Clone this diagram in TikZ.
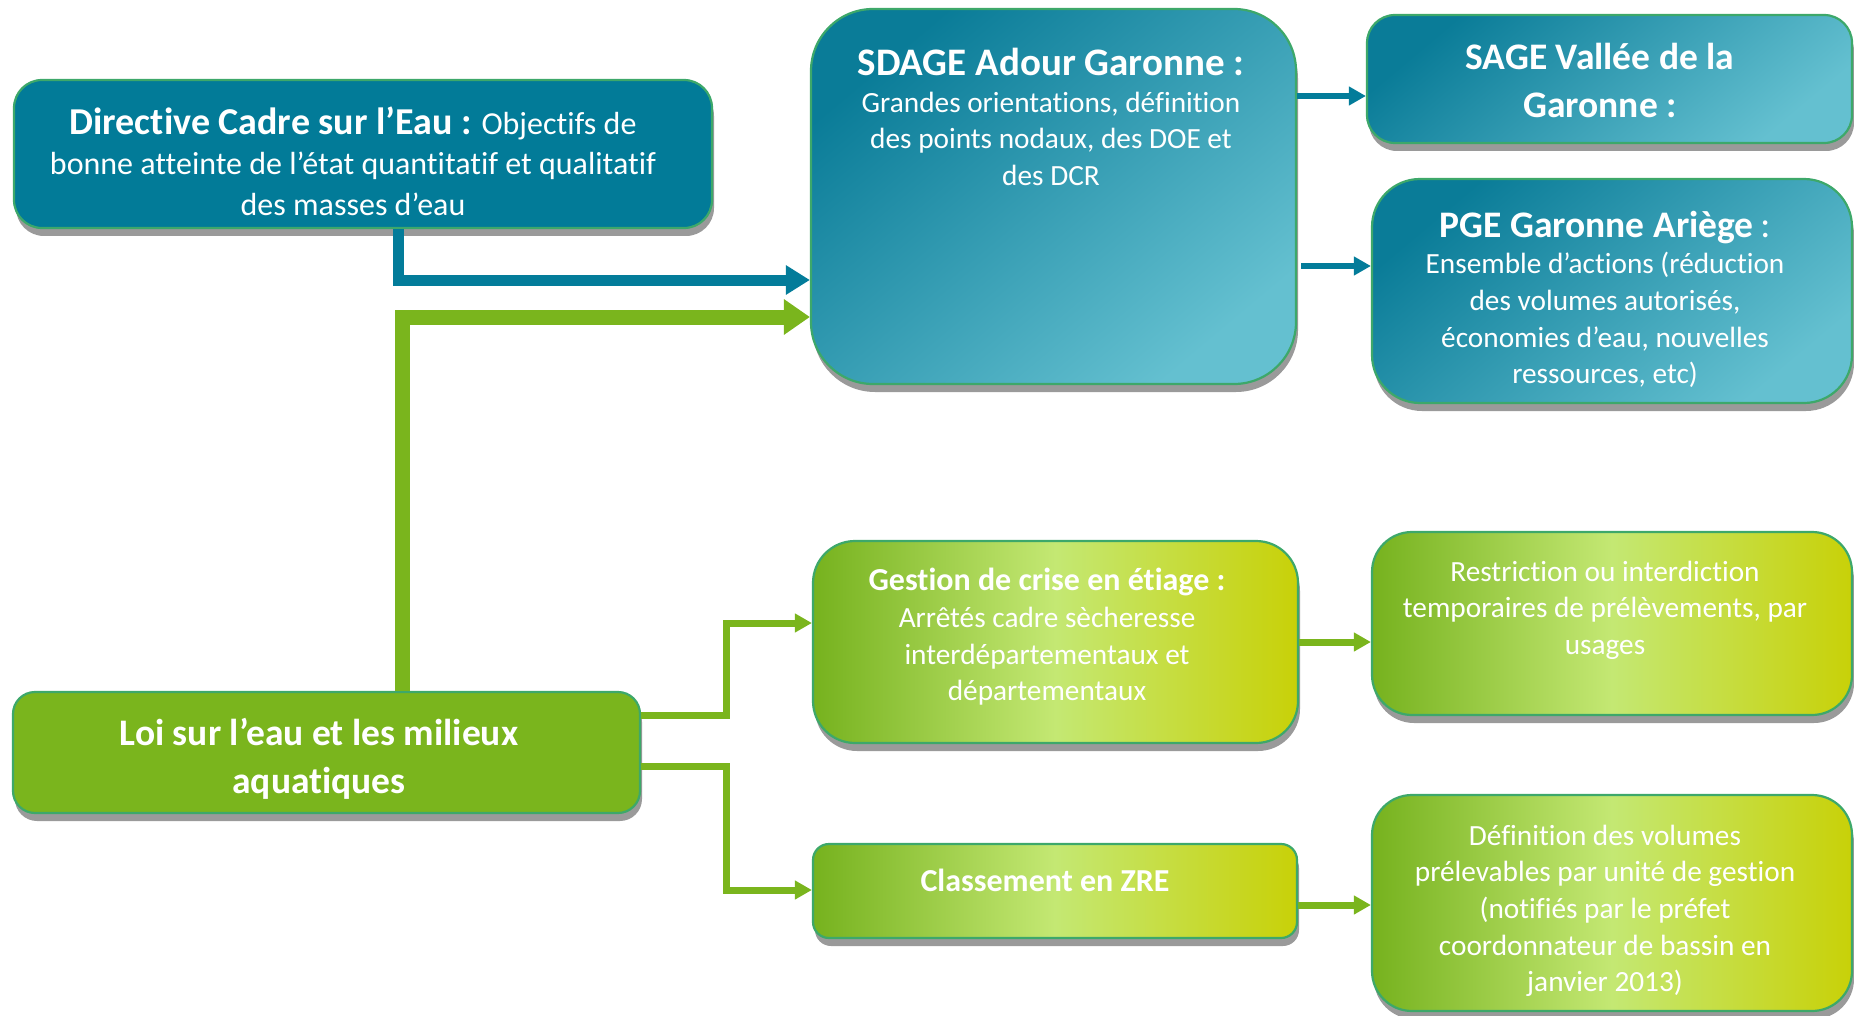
\documentclass[tikz,border=0pt]{standalone}
\usepackage{fontspec}
\setmainfont{Carlito}[Ligatures=NoCommon]
\usetikzlibrary{arrows.meta,shadows}
\definecolor{dceblue}{HTML}{027B98}
\definecolor{gdark}{HTML}{0A7C98}
\definecolor{glight}{HTML}{64C0D0}
\definecolor{loigreen}{HTML}{7AB51D}
\definecolor{gleft}{HTML}{76B21E}
\definecolor{gmid}{HTML}{C4E873}
\definecolor{gright}{HTML}{C8D108}
\definecolor{bordergreen}{HTML}{3DA86A}
\definecolor{shadowgray}{HTML}{9A9A9A}
\definecolor{arrowblue}{HTML}{037C9A}
\begin{document}
\begin{tikzpicture}[x=1pt,y=-1pt,
  box/.style={draw=bordergreen, line width=2.2pt, inner sep=0pt,
    drop shadow={shadow xshift=2pt, shadow yshift=-8pt, fill=shadowgray, opacity=1}},
  bluebox/.style={box, top color=gdark, bottom color=glight, shading angle=40},
  greenbox/.style={box, left color=gleft, right color=gright, middle color=gmid},
  solidblue/.style={box, fill=dceblue},
  solidgreen/.style={box, fill=loigreen},
  txt/.style={text=white, align=center, inner sep=0pt, anchor=north},
  body/.style={font=\fontsize{29.3}{36.7}\selectfont},
  bluebig/.style={draw=arrowblue, line width=11pt, -{Triangle[length=24pt,width=28pt]}},
  greenbig/.style={draw=loigreen, line width=15pt, -{Triangle[length=26pt,width=34pt]}},
  bluesmall/.style={draw=arrowblue, line width=6pt, -{Triangle[length=17pt,width=18pt]}},
  greensmall/.style={draw=loigreen, line width=7pt, -{Triangle[length=17pt,width=18pt]}},
]
\useasboundingbox (0,0) rectangle (1854,1016);

% boxes
\node[solidblue, minimum width=698pt, minimum height=148pt, rounded corners=28pt] (dce) at (363,154) {};
\node[bluebox, minimum width=485pt, minimum height=375pt, rounded corners=62pt] (sdage) at (1053.5,196.5) {};
\node[bluebox, minimum width=485pt, minimum height=128pt, rounded corners=28pt] (sage) at (1609.5,79) {};
\node[bluebox, minimum width=480pt, minimum height=224pt, rounded corners=48pt] (pge) at (1612,291) {};
\node[greenbox, minimum width=485pt, minimum height=202pt, rounded corners=42pt] (gest) at (1055.5,642) {};
\node[greenbox, minimum width=480pt, minimum height=183pt, rounded corners=40pt] (restr) at (1612,623.5) {};
\node[solidgreen, minimum width=627pt, minimum height=121pt, rounded corners=22pt] (loi) at (326.5,752.5) {};
\node[greenbox, minimum width=484pt, minimum height=94pt, rounded corners=16pt] (class) at (1055,891) {};
\node[greenbox, minimum width=480pt, minimum height=216pt, rounded corners=40pt] (defin) at (1612,903) {};

% texts
\node[txt, font=\fontsize{32}{40.5}\selectfont] (tdce) at (353,106.5)
  {{\bfseries\fontsize{38}{40.5}\selectfont Directive Cadre sur l’Eau :} Objectifs de\\
   bonne atteinte de l’état quantitatif et qualitatif\\des masses d’eau};
\node[txt, body] (tsdage) at (1051,48)
  {{\bfseries\fontsize{39}{36.7}\selectfont SDAGE Adour Garonne :}\\
   Grandes orientations, définition\\des points nodaux, des DOE et\\des DCR};
\node[txt, font=\bfseries\fontsize{37.5}{48}\selectfont] (tsage) at (1600,42.5)
  {SAGE Vallée de la\\Garonne :};
\node[txt, body] (tpge) at (1605,210.5)
  {{\bfseries\fontsize{37.5}{36.7}\selectfont PGE Garonne Ariège} {\fontsize{37.5}{36.7}\selectfont :}\\
   Ensemble d’actions (réduction\\des volumes autorisés,\\économies d’eau, nouvelles\\ressources, etc)};
\node[txt, body] (tgest) at (1047,568)
  {{\bfseries\fontsize{32}{36.7}\selectfont Gestion de crise en étiage :}\\
   Arrêtés cadre sècheresse\\interdépartementaux et\\départementaux};
\node[txt, body] (trestr) at (1605,560.5)
  {Restriction ou interdiction\\temporaires de prélèvements, par\\usages};
\node[txt, font=\bfseries\fontsize{37.5}{48}\selectfont] (tloi) at (319,718.5)
  {Loi sur l’eau et les milieux\\aquatiques};
\node[txt, font=\bfseries\fontsize{32}{36.7}\selectfont] (tclass) at (1045,869)
  {Classement en ZRE};
\node[txt, body] (tdefin) at (1605,824.5)
  {Définition des volumes\\prélevables par unité de gestion\\(notifiés par le préfet\\coordonnateur de bassin en\\janvier 2013)};

% connectors
\draw[bluebig] ([xshift=35pt]dce.south) |- (sdage.west |- 0,280);
\draw[greenbig] ([xshift=75.5pt]loi.north) |- (sdage.west |- 0,317);
\draw[bluesmall] (sdage.east |- 0,96) -- (sage.west |- 0,96);
\draw[bluesmall] ([xshift=4pt]sdage.east |- 0,266) -- (pge.west |- 0,266);
\draw[greensmall] (loi.east |- 0,715) -| (726,623) -- (gest.west |- 0,623);
\draw[greensmall] (loi.east |- 0,766) -| (726,890) -- (class.west |- 0,890);
\draw[greensmall] (gest.east |- 0,642) -- (restr.west |- 0,642);
\draw[greensmall] (class.east |- 0,905) -- (defin.west |- 0,905);
\end{tikzpicture}
\end{document}
